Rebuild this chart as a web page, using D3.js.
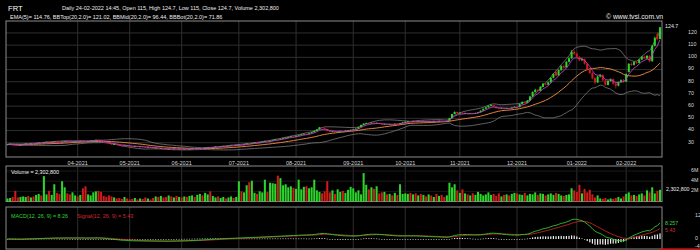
<!DOCTYPE html>
<html>
<head>
<meta charset="utf-8">
<script src="https://cdn.jsdelivr.net/npm/d3@7"></script>
<style>
  body { margin: 0; background: #000; }
  svg { display: block; font-family: "Liberation Sans", Arial, sans-serif; }
</style>
</head>
<body>
<svg id="chart" width="700" height="250"></svg>
<script>
// trading calendar (HOSE), 23-02-2021 .. 24-02-2022
const firstDay = "2021-02-23";
const lastDay = "2022-02-24";
const holidays = ["2021-04-21", "2021-04-30", "2021-05-03", "2021-09-02", "2021-09-03",
  "2022-01-03", "2022-01-31", "2022-02-01", "2022-02-02", "2022-02-03", "2022-02-04"];

// FRT daily candles (thousand VND)
const opens = [
  28.3, 28.6, 29.0, 28.5,
  28.3, 28.0, 28.3, 28.8, 29.3, 28.9, 29.5, 29.1, 29.6, 30.1, 29.8, 30.3, 30.7, 30.2, 30.5, 31.0, 30.8, 30.4, 30.8, 31.3, 31.0, 30.6, 31.0,
  31.2, 31.0, 31.5, 31.2, 30.9, 31.3, 31.6, 31.8, 32.4, 31.9, 31.2, 30.4, 29.7, 29.2, 28.5, 28.9, 28.2, 27.7, 27.4, 27.9,
  27.2, 27.0, 26.8, 27.2, 26.6, 26.9, 26.4, 26.1, 26.5, 25.9, 25.6, 25.8, 25.3, 25.5, 25.0, 24.6, 25.1, 24.8, 25.2, 24.9,
  25.1, 24.8, 25.0, 24.6, 24.9, 25.3, 25.0, 25.4, 25.7, 25.5, 25.9, 26.2, 26.0, 26.4, 26.8, 26.5, 27.0, 27.3, 27.1, 27.6, 27.9, 27.6,
  28.1, 28.4, 28.2, 28.7, 29.3, 29.0, 29.6, 30.1, 29.8, 30.4, 30.9, 31.3, 31.0, 31.6, 32.2, 32.8, 32.5, 33.2, 33.8, 34.1, 34.6, 35.2,
  35.0, 35.6, 36.1, 36.8, 37.3, 37.0, 37.7, 38.5, 39.6, 40.8, 42.6, 42.0, 41.3, 39.6, 38.9, 39.3, 38.7, 39.1, 39.6, 39.2, 39.9, 40.2,
  40.6, 40.9, 41.5, 42.8, 44.6, 45.7, 46.2, 45.8, 46.4, 45.9, 46.3, 45.6, 45.1, 45.4, 44.8, 45.2, 44.9, 45.5, 45.2, 46.1,
  46.7, 47.2, 47.6, 47.3, 47.8, 47.5, 47.9, 47.4, 47.7, 47.2, 47.6, 47.3, 47.8, 47.5, 47.9, 47.6, 47.4, 47.8, 50.1, 53.6, 55.2,
  54.3, 54.6, 53.9, 54.3, 53.6, 54.1, 53.7, 54.4, 55.0, 56.3, 57.8, 58.9, 60.2, 61.0, 59.6, 58.4, 57.9, 58.5, 57.8, 58.3, 58.0, 58.8,
  59.4, 59.2, 61.8, 63.4, 62.6, 64.5, 67.9, 71.6, 73.4, 72.5, 75.8, 78.4, 77.6, 79.5, 83.2, 88.0, 85.1, 89.5, 92.8, 91.6, 96.3, 99.2, 104.6,
  103.0, 100.4, 97.6, 98.5, 94.8, 90.2, 87.1, 82.9, 79.4, 84.3, 85.6, 81.2, 77.4, 80.6, 82.1, 78.4, 76.8, 79.6, 81.3,
  80.1, 88.0, 94.6, 93.8, 96.1, 95.4, 98.2, 100.5, 99.1, 101.2, 96.8, 109.5, 119.0, 115.0
];
const highs = [
  28.9, 29.2, 29.1, 28.7,
  28.5, 28.6, 29.0, 29.5, 29.4, 29.7, 29.6, 29.9, 30.4, 30.3, 30.6, 31.0, 30.8, 30.8, 31.3, 31.2, 30.9, 31.1, 31.6, 31.4, 31.1, 31.2, 31.4,
  31.5, 31.7, 31.6, 31.4, 31.6, 31.9, 32.2, 32.7, 32.5, 32.0, 31.3, 30.6, 29.9, 29.4, 29.2, 29.0, 28.4, 27.9, 28.2, 28.0,
  27.5, 27.2, 27.4, 27.3, 27.1, 27.0, 26.6, 26.8, 26.6, 26.1, 26.0, 25.9, 25.7, 25.6, 25.1, 25.3, 25.2, 25.4, 25.3, 25.3,
  25.2, 25.2, 25.1, 25.1, 25.5, 25.4, 25.6, 25.9, 25.9, 26.1, 26.5, 26.4, 26.6, 27.1, 26.9, 27.2, 27.6, 27.5, 27.8, 28.2, 28.0, 28.3,
  28.7, 28.6, 28.9, 29.6, 29.5, 29.8, 30.4, 30.3, 30.6, 31.2, 31.6, 31.5, 31.8, 32.5, 33.1, 33.0, 33.4, 34.1, 34.5, 34.9, 35.5, 35.6,
  35.9, 36.4, 37.1, 37.6, 37.5, 38.0, 38.8, 39.9, 41.1, 43.0, 42.9, 42.2, 41.4, 39.8, 39.6, 39.4, 39.4, 39.9, 39.8, 40.2, 40.5, 40.9,
  41.2, 41.8, 43.1, 44.9, 46.1, 46.6, 46.4, 46.7, 46.6, 46.6, 46.4, 45.8, 45.7, 45.5, 45.5, 45.4, 45.8, 45.7, 46.4, 47.0,
  47.5, 47.9, 47.8, 48.1, 48.0, 48.2, 48.0, 48.0, 47.8, 47.9, 47.8, 48.1, 48.0, 48.2, 48.1, 47.8, 48.1, 50.4, 53.6, 55.8, 55.6,
  55.0, 54.8, 54.7, 54.5, 54.4, 54.3, 54.7, 55.3, 56.6, 58.1, 59.3, 60.6, 61.5, 61.2, 59.8, 58.7, 58.9, 58.7, 58.7, 58.6, 59.1, 59.8,
  59.9, 62.2, 63.9, 63.8, 65.0, 68.5, 72.2, 74.3, 74.0, 76.4, 79.0, 79.2, 80.2, 83.9, 87.0, 89.6, 90.1, 93.6, 94.0, 97.0, 100.0, 106.0, 106.2,
  103.8, 101.0, 99.6, 99.0, 95.2, 91.0, 87.8, 83.6, 85.0, 86.4, 86.0, 81.8, 81.2, 82.8, 82.6, 79.2, 80.2, 82.0, 82.2,
  86.8, 95.4, 96.0, 96.8, 97.0, 98.9, 101.2, 101.4, 102.0, 101.8, 110.2, 117.0, 120.5, 124.7
];
const lows = [
  28.1, 28.4, 28.2, 27.9,
  27.7, 27.8, 28.1, 28.6, 28.7, 28.8, 28.9, 29.0, 29.4, 29.6, 29.7, 30.1, 30.0, 30.0, 30.4, 30.5, 30.2, 30.3, 30.7, 30.7, 30.4, 30.4, 30.8,
  30.8, 30.9, 31.0, 30.7, 30.8, 31.2, 31.5, 31.7, 31.7, 31.0, 30.2, 29.6, 29.0, 28.4, 28.3, 28.0, 27.5, 27.2, 27.3, 27.1,
  26.8, 26.6, 26.7, 26.4, 26.5, 26.2, 25.9, 26.0, 25.7, 25.4, 25.5, 25.1, 25.2, 24.8, 24.3, 24.5, 24.6, 24.7, 24.7, 24.8,
  24.5, 24.6, 24.4, 24.5, 24.8, 24.8, 24.9, 25.3, 25.3, 25.4, 25.8, 25.8, 25.9, 26.3, 26.3, 26.4, 26.9, 26.9, 27.0, 27.5, 27.4, 27.5,
  28.0, 28.0, 28.1, 28.6, 28.8, 28.9, 29.5, 29.6, 29.7, 30.3, 30.8, 30.8, 30.9, 31.5, 32.1, 32.3, 32.4, 33.1, 33.6, 34.0, 34.5, 34.8,
  34.9, 35.5, 36.0, 36.7, 36.8, 36.9, 37.6, 38.4, 39.5, 40.7, 41.8, 41.1, 39.4, 38.6, 38.7, 38.5, 38.6, 39.0, 39.0, 39.1, 39.8, 40.1,
  40.4, 40.8, 41.4, 42.7, 44.5, 45.5, 45.6, 45.7, 45.7, 45.8, 45.4, 44.9, 45.0, 44.6, 44.7, 44.7, 44.8, 45.0, 45.1, 46.0,
  46.6, 47.1, 47.1, 47.2, 47.3, 47.4, 47.2, 47.3, 47.0, 47.1, 47.1, 47.2, 47.3, 47.4, 47.4, 47.2, 47.3, 47.7, 50.0, 53.4, 54.0,
  54.0, 53.6, 53.7, 53.4, 53.5, 53.5, 53.6, 54.3, 54.9, 56.2, 57.7, 58.8, 60.0, 59.3, 58.1, 57.5, 57.7, 57.5, 57.6, 57.7, 57.9, 58.6,
  58.9, 59.0, 61.5, 62.2, 62.4, 64.3, 67.5, 71.2, 71.8, 72.2, 75.4, 77.0, 77.2, 79.2, 82.8, 84.6, 84.8, 89.0, 90.8, 91.2, 95.8, 98.8, 101.9,
  99.6, 96.8, 96.9, 94.0, 89.6, 86.4, 82.0, 77.8, 79.0, 83.5, 80.6, 76.8, 77.0, 80.0, 77.6, 74.4, 76.2, 79.0, 79.4,
  79.8, 87.6, 93.0, 93.2, 94.6, 95.0, 97.8, 98.4, 98.6, 96.0, 96.5, 108.8, 114.0, 115.0
];
const closes = [
  28.6, 28.9, 28.4, 28.2,
  28.0, 28.3, 28.8, 29.2, 28.9, 29.4, 29.1, 29.6, 30.0, 29.8, 30.3, 30.6, 30.2, 30.5, 30.9, 30.7, 30.4, 30.8, 31.2, 30.9, 30.6, 30.9, 31.1,
  31.0, 31.4, 31.2, 30.9, 31.3, 31.6, 31.8, 32.3, 31.9, 31.2, 30.4, 29.8, 29.2, 28.6, 28.9, 28.2, 27.7, 27.4, 27.9, 27.3,
  27.0, 26.8, 27.2, 26.6, 26.9, 26.4, 26.1, 26.5, 25.9, 25.6, 25.8, 25.3, 25.5, 25.0, 24.6, 25.1, 24.8, 25.2, 24.9, 25.1,
  24.8, 25.0, 24.6, 24.9, 25.3, 25.0, 25.4, 25.7, 25.5, 25.9, 26.2, 26.0, 26.4, 26.8, 26.5, 27.0, 27.3, 27.1, 27.6, 27.9, 27.6, 28.1,
  28.4, 28.2, 28.7, 29.3, 29.0, 29.6, 30.1, 29.8, 30.4, 30.9, 31.3, 31.0, 31.6, 32.2, 32.8, 32.5, 33.2, 33.8, 34.1, 34.6, 35.2, 35.0,
  35.6, 36.1, 36.8, 37.3, 37.0, 37.7, 38.5, 39.6, 40.8, 42.6, 42.0, 41.3, 39.6, 38.9, 39.3, 38.7, 39.1, 39.6, 39.2, 39.9, 40.2, 40.6,
  40.9, 41.5, 42.8, 44.6, 45.7, 46.2, 45.8, 46.4, 45.9, 46.3, 45.6, 45.1, 45.4, 44.8, 45.2, 44.9, 45.5, 45.2, 46.1, 46.7,
  47.2, 47.6, 47.3, 47.8, 47.5, 47.9, 47.4, 47.7, 47.2, 47.6, 47.3, 47.8, 47.5, 47.9, 47.6, 47.4, 47.8, 50.1, 53.6, 55.2, 54.3,
  54.6, 53.9, 54.3, 53.6, 54.1, 53.7, 54.4, 55.0, 56.3, 57.8, 58.9, 60.2, 61.0, 59.6, 58.4, 57.9, 58.5, 57.8, 58.3, 58.0, 58.8, 59.4,
  59.2, 61.8, 63.4, 62.6, 64.5, 67.9, 71.6, 73.4, 72.5, 75.8, 78.4, 77.6, 79.5, 83.2, 86.4, 85.1, 89.5, 92.8, 91.6, 96.3, 99.2, 104.6, 102.8,
  100.4, 97.6, 98.5, 94.8, 90.2, 87.1, 82.9, 79.4, 84.3, 85.6, 81.2, 77.4, 80.6, 82.1, 78.4, 76.8, 79.6, 81.3, 80.1,
  86.2, 94.6, 93.8, 96.1, 95.4, 98.2, 100.5, 99.1, 101.2, 96.8, 109.5, 116.0, 115.2, 124.7
];
// volume, millions of shares
const volumes = [
  0.6, 0.7, 0.9, 2.1,
  0.8, 0.9, 1.0, 0.9, 1.1, 0.8, 1.0, 1.3, 1.5, 1.2, 5.0, 1.4, 2.1, 1.3, 3.4, 1.7, 1.5, 4.0, 2.8, 1.6, 1.4, 1.8, 1.2,
  1.0, 1.3, 2.6, 3.0, 1.4, 1.2, 1.8, 2.0, 2.1, 1.9, 1.1, 0.9, 1.2, 1.0, 0.8, 0.6, 0.7, 0.5, 0.9, 0.6,
  0.4, 0.5, 0.7, 0.4, 0.6, 0.5, 0.8, 0.6, 0.4, 0.7, 1.0, 0.9, 1.1, 0.8, 0.9, 1.2, 1.0, 0.8, 1.1, 0.9,
  0.8, 1.0, 0.9, 1.1, 1.2, 0.9, 1.3, 1.5, 1.2, 1.7, 1.4, 2.0, 1.1, 0.8, 1.0, 0.7, 0.9, 0.6, 0.8, 1.0, 0.7, 0.9,
  4.0, 2.0, 1.8, 3.2, 3.8, 4.1, 1.7, 1.5, 2.0, 1.8, 4.3, 1.9, 3.7, 3.6, 3.5, 5.1, 4.6, 3.2, 3.4, 2.8, 3.0, 2.7,
  2.5, 4.3, 2.4, 2.9, 3.0, 2.6, 2.8, 4.3, 2.2, 1.9, 1.6, 2.0, 4.0, 1.8, 2.2, 1.5, 2.4, 1.9, 2.1, 1.7, 2.3, 2.9,
  2.6, 1.8, 2.2, 1.4, 5.6, 3.3, 2.4, 2.8, 2.5, 3.0, 1.6, 1.8, 1.9, 1.4, 1.5, 1.2, 1.7, 1.3, 3.4, 1.5,
  1.6, 1.5, 1.7, 1.4, 1.6, 1.2, 1.5, 1.3, 1.0, 1.4, 1.2, 0.9, 1.5, 1.1, 1.3, 0.9, 1.2, 3.7, 2.8, 3.4, 2.2,
  1.7, 2.4, 1.6, 1.4, 1.2, 1.6, 1.3, 1.9, 1.5, 1.2, 1.4, 1.8, 1.3, 1.5, 1.1, 1.6, 1.0, 1.3, 1.4, 1.2, 1.5, 1.7,
  1.6, 1.4, 1.3, 1.7, 1.2, 1.5, 1.4, 1.8, 1.3, 1.6, 1.5, 1.2, 1.4, 1.6, 1.3, 1.7, 1.5, 1.2, 1.1, 1.3, 1.4, 2.6, 2.2,
  1.9, 3.3, 1.6, 2.5, 1.8, 2.3, 1.4, 0.8, 1.2, 0.6, 0.5, 0.7, 0.4, 0.6, 0.5, 0.7, 0.9, 0.6, 1.0,
  1.5, 1.8, 1.2, 1.3, 1.1, 1.4, 1.6, 1.2, 2.2, 1.8, 2.8, 1.6, 2.1, 2.3028
];

const priceTicks = [30, 40, 50, 60, 70, 80, 90, 100, 110, 120];
const volumeTicks = [2e6, 4e6, 6e6];
const volumeTickLabels = ["2M", "4M", "6M"];
const macdTicks = [12, 0, -4];

const headline = "Daily 24-02-2022 14:45, Open 115, High 124.7, Low 115, Close 124.7, Volume 2,302,800";
const studyLine = "EMA(5)= 114.76, BBTop(20,2.0)= 121.02, BBMid(20,2.0)= 96.44, BBBot(20,2.0)= 71.86";

const GREEN = "#2bd62b", RED = "#d11a1a", GRID = "#2e2e2e", BORDER = "#8c8c8c";

// --- trading days
const fmtDay = d3.utcFormat("%Y-%m-%d");
const parseDay = d3.utcParse("%Y-%m-%d");
const days = d3.utcDay.range(parseDay(firstDay), d3.utcDay.offset(parseDay(lastDay), 1))
  .filter((d) => d.getUTCDay() !== 0 && d.getUTCDay() !== 6 && !holidays.includes(fmtDay(d)));
const n = closes.length;
// month boundaries; the one right at the left edge gets no grid line or label
const monthStarts = d3.range(10, n).filter((i) => days[i] && days[i].getUTCMonth() !== days[i - 1].getUTCMonth());
const fmtMonth = d3.utcFormat("%m-%Y");

// --- indicators
function ema(vals, p) {
  const k = 2 / (p + 1);
  let prev = vals[0];
  return vals.map((v, i) => (prev = i === 0 ? v : v * k + prev * (1 - k)));
}
const ema5 = ema(closes, 5);
const bbMid = [], bbTop = [], bbBot = [];
closes.forEach((c, i) => {
  const w = closes.slice(Math.max(0, i - 19), i + 1);
  const m = d3.mean(w);
  const sd = Math.sqrt(d3.mean(w, (v) => (v - m) ** 2));
  bbMid.push(m); bbTop.push(m + 2 * sd); bbBot.push(m - 2 * sd);
});
const ema12 = ema(closes, 12), ema26 = ema(closes, 26);
const macd = closes.map((c, i) => ema12[i] - ema26[i]);
const signal = ema(macd, 9);
const hist = macd.map((m, i) => m - signal[i]);

// --- layout
const svg = d3.select("#chart");
const L = 6, R = 662;
const main = { top: 21, bottom: 157 };
const vol = { top: 166, bottom: 201.5 };
const mac = { top: 207, bottom: 249 };

const x = d3.scaleBand().domain(d3.range(n)).range([L + 0.5, R - 1]).paddingInner(0.22);
const cx = (i) => x(i) + x.bandwidth() / 2;
const y = d3.scaleLinear().domain([18.3, 129.8]).range([main.bottom, main.top]);
const yv = d3.scaleLinear().domain([0, 7e6]).range([vol.bottom, vol.top]);
const ym = d3.scaleLinear().domain([-5.2, 16.7]).range([mac.bottom, mac.top]);

svg.append("rect").attr("width", 700).attr("height", 250).attr("fill", "#000");

// grids
[main, vol, mac].forEach((p) => {
  svg.append("g").selectAll("line").data(monthStarts).join("line")
    .attr("x1", (i) => cx(i)).attr("x2", (i) => cx(i))
    .attr("y1", p.top).attr("y2", p.bottom)
    .attr("stroke", GRID).attr("stroke-width", 1);
});
svg.append("g").selectAll("line").data(priceTicks).join("line")
  .attr("x1", L).attr("x2", R).attr("y1", (d) => y(d)).attr("y2", (d) => y(d))
  .attr("stroke", GRID);
svg.append("g").selectAll("line").data(volumeTicks).join("line")
  .attr("x1", L).attr("x2", R).attr("y1", (d) => yv(d)).attr("y2", (d) => yv(d))
  .attr("stroke", "#1c1c1c");

// panel borders
[main, vol, mac].forEach((p) => {
  svg.append("rect").attr("x", L).attr("y", p.top).attr("width", R - L).attr("height", p.bottom - p.top)
    .attr("fill", "none").attr("stroke", BORDER).attr("stroke-width", 1);
});

const up = (i) => closes[i] >= opens[i];

// Bollinger + EMA lines
const line = (arr, sc) => d3.line().x((d, i) => cx(i)).y((d) => sc(d))(arr);
svg.append("path").attr("d", line(bbTop, y)).attr("fill", "none").attr("stroke", "#7a7a7a").attr("stroke-width", 0.8);
svg.append("path").attr("d", line(bbBot, y)).attr("fill", "none").attr("stroke", "#7a7a7a").attr("stroke-width", 0.8);
svg.append("path").attr("d", line(bbMid, y)).attr("fill", "none").attr("stroke", "#e0843c").attr("stroke-width", 1);

// candles
const candles = svg.append("g").selectAll("g").data(d3.range(n)).join("g");
candles.append("line")
  .attr("x1", cx).attr("x2", cx)
  .attr("y1", (i) => y(highs[i])).attr("y2", (i) => y(lows[i]))
  .attr("stroke", (i) => (up(i) ? GREEN : RED)).attr("stroke-width", 0.8);
candles.append("rect")
  .attr("x", (i) => x(i)).attr("width", x.bandwidth())
  .attr("y", (i) => y(Math.max(opens[i], closes[i])))
  .attr("height", (i) => Math.max(0.8, Math.abs(y(opens[i]) - y(closes[i]))))
  .attr("fill", (i) => (up(i) ? GREEN : RED));

svg.append("path").attr("d", line(ema5, y)).attr("fill", "none").attr("stroke", "#c03cc8").attr("stroke-width", 0.9);

// volume bars
svg.append("g").selectAll("rect").data(d3.range(n)).join("rect")
  .attr("x", (i) => x(i)).attr("width", x.bandwidth())
  .attr("y", (i) => yv(volumes[i] * 1e6))
  .attr("height", (i) => yv(0) - yv(volumes[i] * 1e6))
  .attr("fill", (i) => (up(i) ? GREEN : RED));

// MACD
svg.append("g").selectAll("rect").data(d3.range(n)).join("rect")
  .attr("x", (i) => cx(i) - 0.6).attr("width", 1.2)
  .attr("y", (i) => Math.min(ym(hist[i]), ym(0)))
  .attr("height", (i) => Math.max(0.6, Math.abs(ym(hist[i]) - ym(0))))
  .attr("fill", "#f0f0f0");
svg.append("path").attr("d", line(signal, ym)).attr("fill", "none").attr("stroke", "#c82020").attr("stroke-width", 0.9);
svg.append("path").attr("d", line(macd, ym)).attr("fill", "none").attr("stroke", "#2ec82e").attr("stroke-width", 0.9);

// axis labels
const FS = 5.3;
const txt = (g, size, fill) => g.attr("font-size", size).attr("fill", fill);
txt(svg.append("g").selectAll("text").data(priceTicks).join("text")
  .attr("x", 688).attr("y", (d) => y(d) - 0.5).attr("dominant-baseline", "middle")
  .text((d) => d), FS, "#d8d8d8");
txt(svg.append("g").selectAll("text").data(volumeTicks).join("text")
  .attr("x", 691).attr("y", (d) => yv(d) - 0.5).attr("dominant-baseline", "middle")
  .text((d, i) => volumeTickLabels[i]), FS, "#d8d8d8");
txt(svg.append("g").selectAll("text").data(macdTicks).join("text")
  .attr("x", 695).attr("y", (d) => ym(d)).attr("dominant-baseline", "middle")
  .text((d) => d), FS, "#d8d8d8");
txt(svg.append("g").selectAll("text").data(monthStarts).join("text")
  .attr("x", cx).attr("y", 165).attr("text-anchor", "middle")
  .text((i) => fmtMonth(days[i])), 5.5, "#d8d8d8");

// last values
const last = n - 1;
txt(svg.append("text").attr("x", 665).attr("y", y(highs[last]) - 1).attr("dominant-baseline", "middle")
  .text(closes[last]), FS, "#e8e8e8");
txt(svg.append("text").attr("x", 666).attr("y", yv(volumes[last] * 1e6)).attr("dominant-baseline", "middle")
  .text(d3.format(",")(Math.round(volumes[last] * 1e6))), FS, "#e8e8e8");
txt(svg.append("text").attr("x", 665).attr("y", ym(8.257)).attr("dominant-baseline", "middle")
  .text("8.257"), FS, "#36d036");
txt(svg.append("text").attr("x", 665).attr("y", ym(5.43) + 1.5).attr("dominant-baseline", "middle")
  .text("5.43"), FS, "#d02a2a");
svg.append("rect").attr("x", 660).attr("y", 248.3).attr("width", 40).attr("height", 2).attr("fill", "#c01818");

// headers
txt(svg.append("text").attr("x", 8).attr("y", 10.5).text("FRT"), 7.6, "#fff");
txt(svg.append("text").attr("x", 62).attr("y", 9.6).text(headline), 5.5, "#eee");
txt(svg.append("text").attr("x", 10).attr("y", 19.2).text(studyLine), 5.5, "#eee");
txt(svg.append("text").attr("x", 606).attr("y", 19.2).text("\u00a9 www.tvsi.com.vn"), 6.8, "#eee");
txt(svg.append("text").attr("x", 11).attr("y", 173.5).text("Volume = 2,302,800"), 5.4, "#eee");
txt(svg.append("text").attr("x", 11).attr("y", 217.8).text("MACD(12, 26, 9) = 8.26"), 5.4, "#36d036");
txt(svg.append("text").attr("x", 77).attr("y", 217.8).text("Signal(12, 26, 9) = 5.43"), 5.4, "#d02a2a");
</script>
</body>
</html>
